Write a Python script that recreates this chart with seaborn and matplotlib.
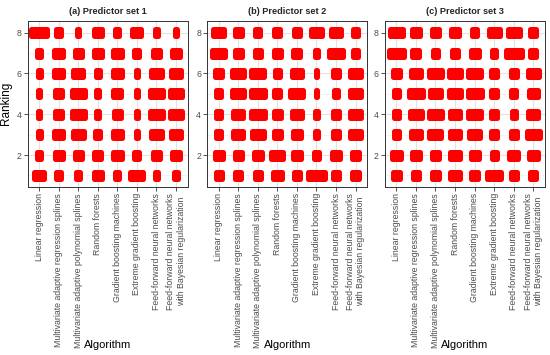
import numpy as np
import pandas as pd
import matplotlib
matplotlib.use("Agg")
import matplotlib.pyplot as plt
import seaborn as sns

algorithms = [
    "Linear regression",
    "Multivariate adaptive regression splines",
    "Multivariate adaptive polynomial splines",
    "Random forests",
    "Gradient boosting machines",
    "Extreme gradient boosting",
    "Feed-forward neural networks",
    "Feed-forward neural networks\nwith Bayesian regularization",
]
rankings = [8, 7, 6, 5, 4, 3, 2, 1]
panel_titles = ["(a) Predictor set 1", "(b) Predictor set 2", "(c) Predictor set 3"]

# horizontal spread of the ranking cloud (in algorithm units), rows = rankings 8..1
spread_set1 = [
    [1.06, 0.50, 0.36, 0.65, 0.44, 0.72, 0.39, 0.37],
    [0.46, 0.70, 0.61, 0.65, 0.70, 0.50, 0.65, 0.65],
    [0.41, 0.70, 0.80, 0.48, 0.70, 0.39, 0.83, 0.80],
    [0.34, 0.65, 0.92, 0.42, 0.65, 0.36, 0.90, 0.87],
    [0.34, 0.65, 0.92, 0.42, 0.63, 0.36, 0.90, 0.83],
    [0.41, 0.68, 0.82, 0.50, 0.73, 0.39, 0.83, 0.80],
    [0.44, 0.66, 0.61, 0.61, 0.73, 0.51, 0.61, 0.65],
    [0.75, 0.51, 0.48, 0.68, 0.44, 0.92, 0.42, 0.44],
]
spread_set2 = [
    [0.82, 0.63, 0.50, 0.58, 0.53, 0.80, 0.80, 0.55],
    [0.94, 0.63, 0.58, 0.61, 0.61, 0.39, 1.02, 0.53],
    [0.58, 0.87, 0.92, 0.53, 0.80, 0.34, 0.56, 0.78],
    [0.50, 0.87, 0.96, 0.55, 0.92, 0.34, 0.50, 0.78],
    [0.50, 0.78, 0.96, 0.61, 0.77, 0.37, 0.53, 0.78],
    [0.53, 0.77, 0.88, 0.63, 0.70, 0.44, 0.53, 0.78],
    [0.65, 0.63, 0.65, 0.88, 0.65, 0.55, 0.68, 0.65],
    [0.56, 0.58, 0.58, 0.73, 0.55, 1.09, 0.55, 0.61],
]
spread_set3 = [
    [0.90, 0.66, 0.65, 0.63, 0.55, 0.82, 0.88, 0.56],
    [1.04, 0.61, 0.55, 0.58, 0.66, 0.46, 1.09, 0.58],
    [0.58, 0.78, 0.92, 0.83, 0.90, 0.56, 0.58, 0.80],
    [0.53, 0.94, 0.85, 0.83, 0.97, 0.56, 0.50, 0.73],
    [0.51, 0.90, 0.90, 0.75, 0.88, 0.56, 0.46, 0.75],
    [0.53, 0.75, 0.87, 0.75, 0.80, 0.56, 0.55, 0.90],
    [0.73, 0.65, 0.66, 0.80, 0.66, 0.51, 0.72, 0.73],
    [0.58, 0.60, 0.63, 0.80, 0.58, 0.94, 0.58, 0.58],
]

rows = []
for title, mat in zip(panel_titles, [spread_set1, spread_set2, spread_set3]):
    for r, rank in enumerate(rankings):
        for a, alg in enumerate(algorithms):
            rows.append(dict(panel=title, Algorithm=alg, pos=a + 1,
                             Ranking=rank, spread=mat[r][a]))
df = pd.DataFrame(rows)

sns.set_theme(style="white")
plt.rcParams["font.family"] = ["Liberation Sans", "DejaVu Sans"]

W, H, DPI = 550, 355, 100
RED = "#FF0000"
EDGE_PX = 5.0
EDGE_PT = EDGE_PX * 72 / DPI
PX_PER_X = 19.57
PX_PER_Y = 20.4
BOX_H_PX = 12.0

g = sns.FacetGrid(df, col="panel", col_order=panel_titles, sharey=False, sharex=False)
g.figure.set_size_inches(W / DPI, H / DPI)
g.figure.set_dpi(DPI)


def draw_cells(data, **kws):
    ax = plt.gca()
    inner_w = np.clip(data["spread"].values - EDGE_PX / PX_PER_X, 0.01, None)
    inner_h = (BOX_H_PX - EDGE_PX) / PX_PER_Y
    bars = ax.barh(data["Ranking"].values, inner_w,
                   left=data["pos"].values - inner_w / 2,
                   height=inner_h, color=RED, edgecolor=RED,
                   linewidth=EDGE_PT, zorder=3)
    for p in bars:
        p.set_joinstyle("round")


g.map_dataframe(draw_cells)

lefts = [27.7, 207.3, 385.0]
ax_w, top_px, bot_px = 160.0, 21.0, 186.7
for i, ax in enumerate(g.axes.flat):
    ax.set_position([lefts[i] / W, 1 - bot_px / H, ax_w / W, (bot_px - top_px) / H])
    ax.set_xlim(0.42, 8.6)
    ax.set_ylim(0.45, 8.57)
    ax.set_xticks(range(1, 9))
    ax.set_xticklabels(algorithms, rotation=90, fontsize=6.2, color="#4D4D4D",
                       ha="center", va="top", multialignment="center")
    ax.set_yticks([2, 4, 6, 8])
    ax.set_yticks([1, 3, 5, 7], minor=True)
    ax.tick_params(axis="both", which="major", length=3, width=0.6, color="#333333",
                   pad=1.5, labelsize=6.3, labelcolor="#4D4D4D", bottom=True, left=True)
    ax.tick_params(axis="y", which="minor", length=0)
    ax.grid(True, which="major", color="#E3E3E3", linewidth=0.8, zorder=0)
    ax.grid(True, which="minor", axis="y", color="#EEEEEE", linewidth=0.5, zorder=0)
    ax.set_axisbelow(True)
    for s in ax.spines.values():
        s.set_visible(True)
        s.set_color("#333333")
        s.set_linewidth(0.7)
    ax.set_title(panel_titles[i], fontsize=6.6, fontweight="bold", pad=5)
    ax.set_xlabel("Algorithm", fontsize=8, color="black")
    ax.xaxis.set_label_coords(0.5, -0.925)
    if i == 0:
        ax.set_ylabel("Ranking", fontsize=8.5, color="black")
        ax.yaxis.set_label_coords(-0.10, 0.5)
    else:
        ax.set_ylabel("")

g.figure.savefig("out.png", dpi=DPI)
